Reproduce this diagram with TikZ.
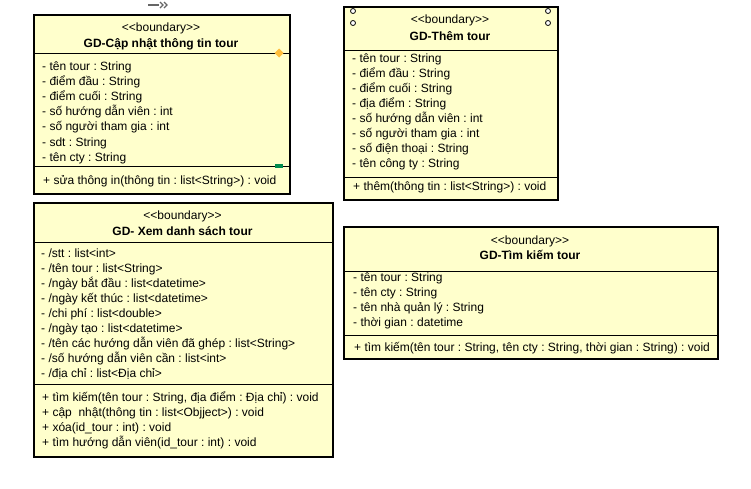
\documentclass[tikz,border=0pt]{standalone}
\usepackage{fontspec}
\setmainfont{Liberation Sans}
\frenchspacing
\definecolor{nenlop}{RGB}{255,255,204}
\definecolor{camthoi}{RGB}{255,190,60}
\definecolor{xanhla}{RGB}{0,140,80}
\newcommand{\khuonmau}{<\kern0pt<boundary>\kern0pt>}
\tikzset{
  lop/.style={draw=black, line width=2pt, fill=nenlop, anchor=north west, inner sep=0pt},
  vach/.style={black, line width=1pt},
  dong/.style={anchor=base west, inner sep=0pt, font=\fontsize{12}{14}\selectfont},
  khuon/.style={anchor=base, inner sep=0pt, font=\fontsize{12}{14}\selectfont},
  tenlop/.style={anchor=base, inner sep=0pt, font=\fontsize{12}{14}\selectfont\bfseries},
}
\begin{document}
\begin{tikzpicture}[x=1pt,y=-1pt]
        \useasboundingbox (0,0) rectangle (751,488);

        % Icona in alto
        \draw[gray!80!black, line width=1.5pt] (148,5) -- (159,5);
        \draw[gray!80!black, line width=1.3pt] (160,2) -- (163,5) -- (160,8) (164,2) -- (167,5) -- (164,8);

        % GD-Cap nhat thong tin tour
        \node[lop, minimum width=256, minimum height=179] (capnhat) at (33,14) {};
        \draw[vach] (33,53) -- (289,53);
        \draw[vach] (33,166) -- (289,166);
        \node[khuon] (capnhat-k) at (161,31) {\khuonmau};
        \node[tenlop] (capnhat-t) at (161,47) {GD-Cập nhật thông tin tour};
        \foreach \t [count=\i from 0] in {- tên tour : String, - điểm đầu : String, - điểm cuối : String,
            - số hướng dẫn viên : int, - số người tham gia : int, - sdt : String, - tên cty : String}
            \node[dong] (capnhat-a\i) at (42,70+15.2*\i) {\t};
        \node[dong] (capnhat-m0) at (43,184) {+ sửa thông in(thông tin : list<String>) : void};
        \fill[camthoi] (279,48.5) -- (283.5,53) -- (279,57.5) -- (274.5,53) -- cycle;
        \fill[xanhla] (275,164) rectangle (283,168);

        % GD-Them tour
        \node[lop, minimum width=214, minimum height=193] (them) at (343,6) {};
        \draw[vach] (343,50) -- (557,50);
        \draw[vach] (343,177) -- (557,177);
        \foreach \p in {(353,11),(353,23),(548,11),(548,23)}
            \draw[black, fill=white, line width=0.8pt] \p circle (2.5);
        \node[khuon] (them-k) at (450,23) {\khuonmau};
        \node[tenlop] (them-t) at (450,40) {GD-Thêm tour};
        \foreach \t [count=\i from 0] in {- tên tour : String, - điểm đầu : String, - điểm cuối : String,
            - địa điểm : String, - số hướng dẫn viên : int, - số người tham gia : int,
            - số điện thoại : String, - tên công ty : String}
            \node[dong] (them-a\i) at (352,62+15*\i) {\t};
        \node[dong] (them-m0) at (353,190) {+ thêm(thông tin : list<String>) : void};

        % GD- Xem danh sach tour
        \node[lop, minimum width=299, minimum height=254] (xemds) at (33,202) {};
        \draw[vach] (33,242) -- (332,242);
        \draw[vach] (33,384) -- (332,384);
        \node[khuon] (xemds-k) at (182.5,219) {\khuonmau};
        \node[tenlop] (xemds-t) at (182.5,235) {GD- Xem danh sách tour};
        \foreach \t [count=\i from 0] in {- /stt : list<int>, - /tên tour : list<String>,
            - /ngày bắt đầu : list<datetime>, - /ngày kết thúc : list<datetime>,
            - /chi phí : list<double>, - /ngày tạo : list<datetime>,
            - /tên các hướng dẫn viên đã ghép : list<String>,
            - /số hướng dẫn viên cần : list<int>, - /địa chỉ : list<Địa chỉ>}
            \node[dong] (xemds-a\i) at (41,257+15.1*\i) {\t};
        \foreach \t [count=\i from 0] in {{+ tìm kiếm(tên tour : String, địa điểm : Địa chỉ) : void},
            + cập~ nhật(thông tin : list<Objject>) : void, + xóa(id\_tour : int) : void,
            + tìm hướng dẫn viên(id\_tour : int) : void}
            \node[dong] (xemds-m\i) at (42,401+15*\i) {\t};

        % GD-Tim kiem tour
        \node[lop, minimum width=374, minimum height=132] (timkiem) at (343,226) {};
        \draw[vach] (343,271) -- (717,271);
        \draw[vach] (343,335) -- (717,335);
        \node[khuon] (timkiem-k) at (530,244) {\khuonmau};
        \node[tenlop] (timkiem-t) at (530,259) {GD-Tìm kiếm tour};
        \foreach \t [count=\i from 0] in {- tên tour : String, - tên cty : String,
            - tên nhà quản lý : String, - thời gian : datetime}
            \node[dong] (timkiem-a\i) at (353,281+15.3*\i) {\t};
        \node[dong] (timkiem-m0) at (354,351) {+ tìm kiếm(tên tour : String, tên cty : String, thời gian : String) : void};
    \end{tikzpicture}
\end{document}
